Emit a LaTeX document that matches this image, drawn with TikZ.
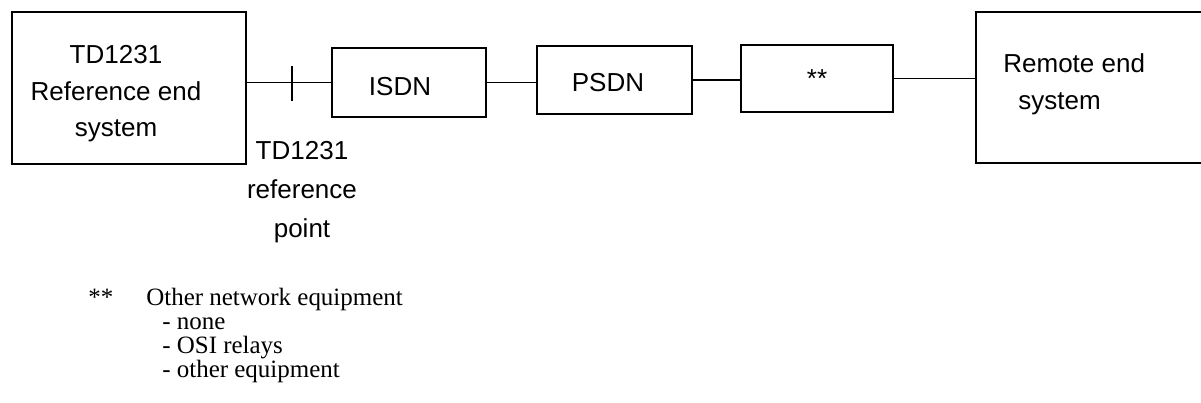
\documentclass[tikz,border=0pt]{standalone}
\usepackage{fontspec}
\setmainfont{Liberation Sans}
\newfontfamily\legendfont{Liberation Serif}
\tikzset{
  netbox/.style={
    rectangle,
    draw=black, line width=1.1pt,
    inner sep=0pt,
    font=\fontsize{14.8}{20.8}\selectfont},
  line/.style={draw, line width=1.1pt},
  boxtext/.style={align=center, inner sep=0pt, font=\fontsize{14.8}{20.8}\selectfont},
  sidetext/.style={align=left, inner sep=0pt, font=\fontsize{14.8}{20.8}\selectfont},
  legend/.style={anchor=base west, inner sep=0pt, font=\legendfont\fontsize{14.2}{17}\selectfont},
}

\begin{document}
\begin{tikzpicture}
\clip (0,0) rectangle (24.02,-8.06);
% the chain of boxes
\node[netbox, minimum width=4.68cm, minimum height=3.04cm] (refsys) at (2.58,-1.76) {};
\node[boxtext] (refsystxt) at (2.32,-1.88) {TD1231\\Reference end\\system};
\node[netbox, minimum width=3.08cm, minimum height=1.38cm] (isdn) at (8.18,-1.65) {};
\node[boxtext] (isdntxt) at (8.00,-1.73) {ISDN};
\node[netbox, minimum width=3.10cm, minimum height=1.36cm] (psdn) at (12.29,-1.60) {};
\node[boxtext] (psdntxt) at (12.16,-1.66) {PSDN};
\node[netbox, minimum width=3.04cm, minimum height=1.34cm] (other) at (16.34,-1.57) {**};
\node[netbox, minimum width=4.88cm, minimum height=3.02cm] (remote) at (21.96,-1.75) {};
\node[sidetext, anchor=west] (remotetxt) at (20.06,-1.69) {Remote end\\\hspace*{0.3cm}system};
% connections
\draw[line] (isdn.west -| refsys.east) -- coordinate[pos=0.535] (tick) (isdn.west);
\draw[line] ([yshift=0.32cm]tick) -- ([yshift=-0.38cm]tick);
\draw[line] (isdn.east) -- (isdn.east -| psdn.west);
\draw[line] (psdn.east) -- (psdn.east -| other.west);
\draw[line] (other.east) -- (other.east -| remote.west);
\node[boxtext, font=\fontsize{14.8}{22.2}\selectfont] (refpoint) at (6.04,-3.84) {TD1231\\reference\\point};
% legend
\node[legend] (legstar) at (1.76,-6.10) {**};
\node[legend] (legtitle) at (2.92,-6.10) {Other network equipment};
\foreach \t [count=\i] in {none, OSI relays, other equipment}
  \node[legend] (item\i) at (3.24,{-6.10-0.48*\i}) {- \t};
\end{tikzpicture}
\end{document}
